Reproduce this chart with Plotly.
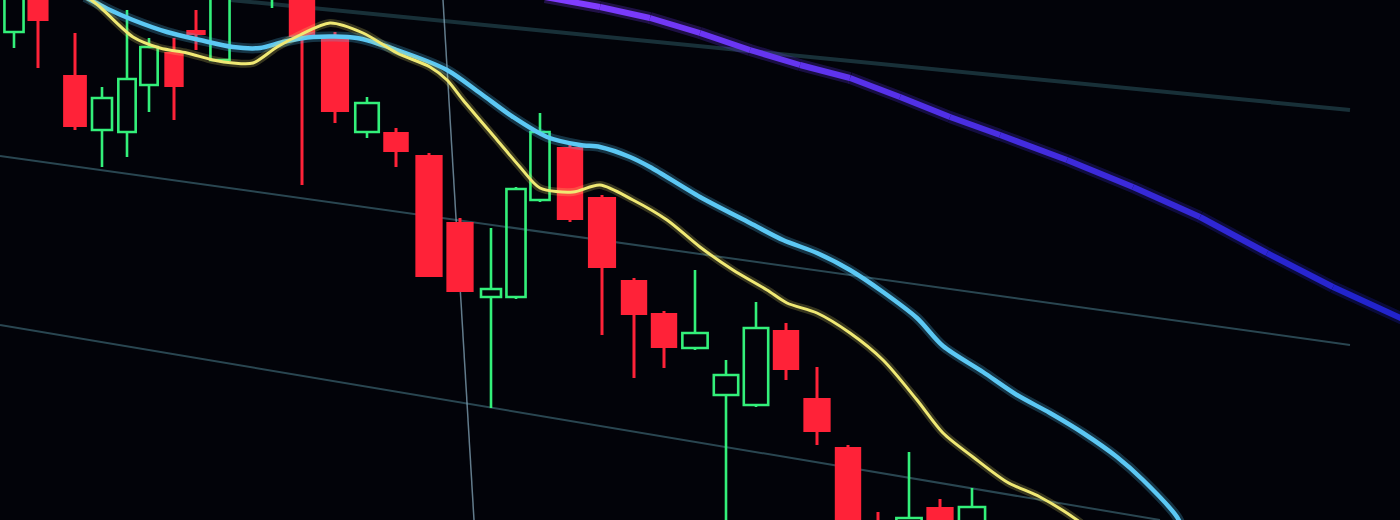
import numpy as np
import plotly.graph_objects as go

# ---- candle data (time position, OHLC in chart price units) ----
candle_t = [14, 38, 75, 102, 127, 149, 174, 196, 220, 246, 272, 302, 335, 367, 396,
            429, 460, 491, 516, 540, 570, 602, 634, 664, 695, 726, 756, 786, 817, 848,
            878, 909, 940, 972]
open_p = [488, 530, 445, 390, 388, 435, 468, 490, 460, 535, 528, 540, 485, 388, 388,
          365, 298, 223, 223, 320, 373, 323, 240, 207, 172, 125, 115, 190, 122, 73,
          -5, -40, 13, -20]
high_p = [550, 545, 487, 433, 510, 482, 482, 510, 570, 585, 575, 552, 488, 423, 392,
          367, 302, 292, 333, 407, 375, 325, 242, 209, 250, 160, 218, 197, 153, 75,
          8, 68, 21, 32]
low_p = [472, 452, 390, 353, 363, 408, 400, 470, 458, 528, 512, 335, 397, 382, 353,
         243, 228, 112, 221, 318, 298, 185, 142, 152, 170, -30, 113, 140, 75, -40,
         -50, -50, -50, -40]
close_p = [530, 499, 393, 422, 441, 473, 433, 485, 545, 570, 565, 483, 408, 417, 368,
           243, 228, 231, 331, 388, 300, 252, 205, 172, 187, 145, 192, 150, 88, -30,
           -30, 2, -30, 13]

# ---- moving averages ----
fast_t = [85, 100, 133, 160, 187, 213, 233, 253, 277, 300, 330, 363, 397, 430, 447,
          463, 497, 520, 540, 573, 600, 633, 667, 700, 733, 767, 787, 817, 850, 883,
          917, 943, 973, 1007, 1040, 1077, 1095]
fast_ma = [525, 513, 483, 472, 467, 460, 457, 457, 473, 485, 497, 487, 467, 453, 440,
           420, 380, 353, 332, 328, 335, 320, 300, 273, 250, 230, 217, 207, 187, 160,
           120, 87, 63, 38, 23, 0, -15]

mid_t = [85, 110, 133, 167, 200, 233, 260, 283, 313, 357, 397, 447, 480, 513, 547,
         580, 600, 630, 650, 700, 750, 783, 817, 850, 883, 917, 943, 983, 1017, 1050,
         1083, 1117, 1143, 1177, 1185]
mid_ma = [523, 510, 500, 488, 480, 473, 472, 478, 483, 482, 470, 450, 427, 403, 383,
          375, 373, 363, 353, 323, 297, 280, 267, 250, 228, 202, 174, 148, 125, 107,
          87, 63, 40, 3, -15]

slow_t = [545, 600, 650, 700, 750, 800, 850, 900, 950, 1000, 1067, 1133, 1200, 1267,
          1333, 1405]
slow_ma = [523, 513, 502, 487, 470, 455, 442, 423, 403, 385, 360, 333, 303, 267,
           233, 200]

RED = "#ff2238"
GREEN = "#33f07a"
BG = "#020309"

t = np.array(candle_t, dtype=float)
o = np.array(open_p, dtype=float)
h = np.array(high_p, dtype=float)
l = np.array(low_p, dtype=float)
c = np.array(close_p, dtype=float)
up = c >= o

d = np.diff(t)
left = np.concatenate([[d[0]], d])
right = np.concatenate([d, [d[-1]]])
widths = 0.88 * np.minimum(left, right)

fig = go.Figure()

def wicks(mask):
    xs, ys = [], []
    for ti, oi, hi, li, ci in zip(t[mask], o[mask], h[mask], l[mask], c[mask]):
        bot, top = min(oi, ci), max(oi, ci)
        xs += [ti, ti, None, ti, ti, None]
        ys += [li, bot, None, top, hi, None]
    return xs, ys

# wicks
for mask, col, w in [(~up, RED, 3), (up, GREEN, 2.6)]:
    xs, ys = wicks(mask)
    fig.add_trace(go.Scatter(x=xs, y=ys, mode="lines",
                             line=dict(color=col, width=w), hoverinfo="skip"))

# red filled bodies
fig.add_trace(go.Bar(x=t[~up], y=(o - c)[~up], base=c[~up], width=widths[~up],
                     marker=dict(color=RED, line=dict(width=0))))
# green hollow bodies
fig.add_trace(go.Bar(x=t[up], y=(c - o)[up], base=o[up], width=widths[up] - 2,
                     marker=dict(color="rgba(0,0,0,0)",
                                 line=dict(color=GREEN, width=2.6))))

# moving average lines (soft glow + core)
fig.add_trace(go.Scatter(x=mid_t, y=mid_ma, mode="lines",
                         line=dict(color="rgba(80,190,240,0.25)", width=10, shape="spline", smoothing=0.8)))
fig.add_trace(go.Scatter(x=mid_t, y=mid_ma, mode="lines",
                         line=dict(color="#5cc8f4", width=4.5, shape="spline", smoothing=0.8)))
fig.add_trace(go.Scatter(x=fast_t, y=fast_ma, mode="lines",
                         line=dict(color="rgba(240,230,110,0.22)", width=8, shape="spline", smoothing=0.8)))
fig.add_trace(go.Scatter(x=fast_t, y=fast_ma, mode="lines",
                         line=dict(color="#f0e974", width=3, shape="spline", smoothing=0.8)))

# slow line with violet -> blue fade
c0 = np.array([128, 60, 255])
c1 = np.array([34, 36, 205])
n = len(slow_t) - 1
for i in range(n):
    f = i / (n - 1)
    col = (c0 * (1 - f) + c1 * f).astype(int)
    fig.add_trace(go.Scatter(x=slow_t[i:i + 2], y=slow_ma[i:i + 2], mode="lines",
                             line=dict(color=f"rgba({col[0]},{col[1]},{col[2]},0.25)", width=12)))
    fig.add_trace(go.Scatter(x=slow_t[i:i + 2], y=slow_ma[i:i + 2], mode="lines",
                             line=dict(color=f"rgb({col[0]},{col[1]},{col[2]})", width=6)))

# tilted screen grid (decoration)
grid = [
    (230, 520, 1350, 410, "rgba(40,78,88,0.6)", 4),
    (0, 364, 1350, 175, "rgba(75,125,140,0.55)", 2),
    (0, 195, 1160, 0, "rgba(75,125,140,0.55)", 2),
    (443, 520, 474, 0, "rgba(140,175,195,0.7)", 1.5),
]
shapes = [dict(type="line", xref="x", yref="y", x0=a, y0=b, x1=cc, y1=dd,
               line=dict(color=col, width=w), layer="below")
          for a, b, cc, dd, col, w in grid]

fig.update_layout(
    width=1400, height=520,
    margin=dict(l=0, r=0, t=0, b=0),
    paper_bgcolor=BG, plot_bgcolor=BG,
    showlegend=False, barmode="overlay",
    xaxis=dict(range=[0, 1400], visible=False),
    yaxis=dict(range=[0, 520], visible=False),
    shapes=shapes,
)

fig.write_html(
    "out.html",
    config={"displayModeBar": False},
    post_script="document.body.style.margin='0';document.body.style.background='#020309';",
)
